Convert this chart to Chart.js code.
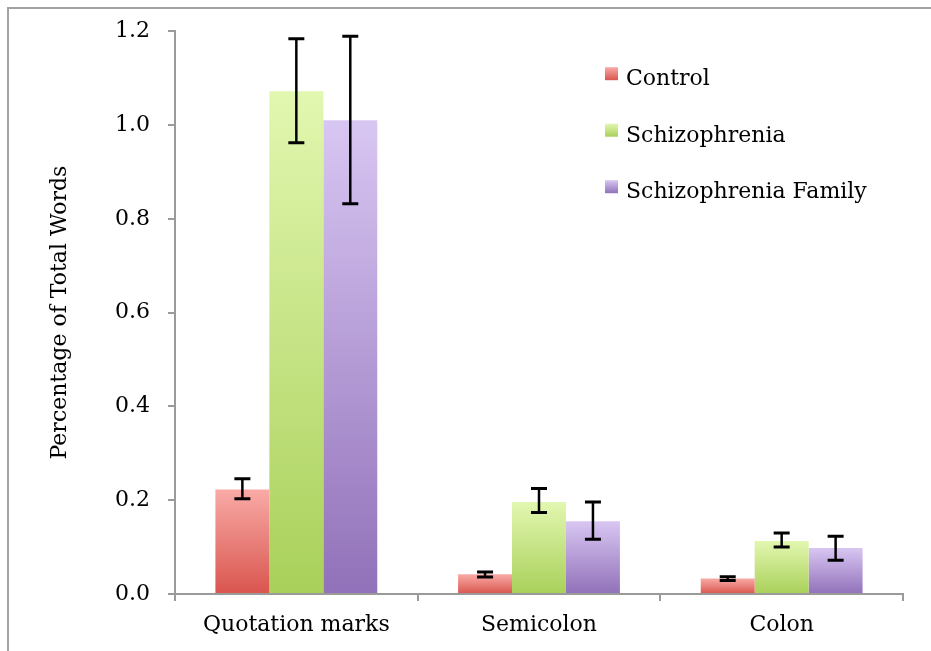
<!DOCTYPE html>
<html>
<head>
<meta charset="utf-8">
<script src="https://cdn.jsdelivr.net/npm/chart.js@4.4.1/dist/chart.umd.min.js"></script>
<style>
  body { margin: 0; background: #fff; }
  #wrap { position: relative; width: 931px; height: 651px; overflow: hidden; }
  #frame { position: absolute; left: 7px; top: 7px; width: 1000px; height: 1000px;
           border-left: 2px solid #a3a3a3; border-top: 2px solid #a3a3a3; }
</style>
</head>
<body>
<div id="wrap">
  <div id="frame"></div>
  <canvas id="chart"></canvas>
</div>
<script>
// データ
const categories = ['Quotation marks', 'Semicolon', 'Colon'];
const seriesNames = ['Control', 'Schizophrenia', 'Schizophrenia Family'];

const control = [0.223, 0.042, 0.033];
const controlLow = [0.203, 0.036, 0.029];
const controlHigh = [0.246, 0.047, 0.037];

const schizophrenia = [1.072, 0.196, 0.113];
const schizophreniaLow = [0.962, 0.174, 0.100];
const schizophreniaHigh = [1.184, 0.225, 0.130];

const family = [1.010, 0.155, 0.098];
const familyLow = [0.832, 0.117, 0.072];
const familyHigh = [1.189, 0.196, 0.123];

const yTicks = [0, 0.2, 0.4, 0.6, 0.8, 1.0, 1.2];

// 上が明るく下が濃いグラデーション
const shades = [
    ['#f9aaa6', '#d9554e'],
    ['#e2f7b0', '#a9d05a'],
    ['#d8c6f2', '#9171b9']
];

function barGradient(i) {
    return function(context) {
        const chart = context.chart;
        if (!chart.chartArea || context.raw === undefined) return shades[i][1];
        const y = chart.scales.y;
        const top = y.getPixelForValue(context.raw);
        const bottom = y.getPixelForValue(0);
        const g = chart.ctx.createLinearGradient(0, top, 0, bottom);
        g.addColorStop(0, shades[i][0]);
        g.addColorStop(1, shades[i][1]);
        return g;
    };
}

const errors = [
    [controlLow, controlHigh],
    [schizophreniaLow, schizophreniaHigh],
    [familyLow, familyHigh]
];

const errorBarPlugin = {
    id: 'errorBars',
    afterDatasetsDraw(chart) {
        const ctx = chart.ctx;
        const y = chart.scales.y;
        ctx.save();
        ctx.strokeStyle = '#000';
        chart.data.datasets.forEach((ds, i) => {
            const meta = chart.getDatasetMeta(i);
            meta.data.forEach((bar, j) => {
                const lo = y.getPixelForValue(errors[i][0][j]);
                const hi = y.getPixelForValue(errors[i][1][j]);
                ctx.lineWidth = 2.5;
                ctx.beginPath();
                ctx.moveTo(bar.x, lo);
                ctx.lineTo(bar.x, hi);
                ctx.stroke();
                ctx.lineWidth = 3;
                ctx.beginPath();
                ctx.moveTo(bar.x - 8, lo);
                ctx.lineTo(bar.x + 8, lo);
                ctx.moveTo(bar.x - 8, hi);
                ctx.lineTo(bar.x + 8, hi);
                ctx.stroke();
            });
        });
        ctx.restore();
    }
};

// 凡例はプロット内の右上に描く
const legendPlugin = {
    id: 'insideLegend',
    afterDraw(chart) {
        const ctx = chart.ctx;
        const x0 = chart.chartArea.left + 430;
        const base0 = chart.chartArea.top + 54;
        ctx.save();
        ctx.font = '22px "DejaVu Serif"';
        ctx.textBaseline = 'alphabetic';
        ctx.fillStyle = '#000';
        chart.data.datasets.forEach((ds, i) => {
            const base = base0 + i * 56.5;
            const g = ctx.createLinearGradient(0, base - 18, 0, base - 5);
            g.addColorStop(0, shades[i][0]);
            g.addColorStop(1, shades[i][1]);
            ctx.fillStyle = g;
            ctx.fillRect(x0, base - 18, 13, 13);
            ctx.fillStyle = '#000';
            ctx.fillText(ds.label, x0 + 21, base);
        });
        ctx.restore();
    }
};

Chart.defaults.font.family = '"DejaVu Serif"';
Chart.defaults.color = '#000';

const ctx = document.getElementById('chart').getContext('2d');
new Chart(ctx, {
    type: 'bar',
    data: {
        labels: categories,
        datasets: [
            { label: seriesNames[0], data: control, backgroundColor: barGradient(0) },
            { label: seriesNames[1], data: schizophrenia, backgroundColor: barGradient(1) },
            { label: seriesNames[2], data: family, backgroundColor: barGradient(2) }
        ]
    },
    plugins: [errorBarPlugin, legendPlugin],
    options: {
        responsive: true,
        maintainAspectRatio: false,
        animation: false,
        layout: { padding: { top: 30, right: 28, left: 0, bottom: 0 } },
        datasets: { bar: { categoryPercentage: 0.667, barPercentage: 1.0 } },
        plugins: {
            legend: { display: false },
            tooltip: { enabled: false }
        },
        scales: {
            x: {
                afterFit: function(scale) { scale.height = 57; },
                grid: { offset: true, drawOnChartArea: false, tickLength: 7, color: '#9a9a9a', lineWidth: 2 },
                border: { display: true, color: '#9a9a9a', width: 2 },
                ticks: { font: { size: 22 }, padding: 11, color: '#000', maxRotation: 0 }
            },
            y: {
                min: 0,
                max: 1.2,
                afterFit: function(scale) { scale.width = 175; },
                afterBuildTicks: function(scale) { scale.ticks = yTicks.map(v => ({ value: v })); },
                grid: { drawOnChartArea: false, tickLength: 7, color: '#9a9a9a', lineWidth: 2 },
                border: { display: true, color: '#9a9a9a', width: 2 },
                ticks: {
                    font: { size: 22 },
                    padding: 18,
                    color: '#000',
                    callback: v => Number(v).toFixed(1)
                },
                title: {
                    display: true,
                    text: 'Percentage of Total Words',
                    font: { size: 22 },
                    color: '#000',
                    padding: { top: 47, bottom: 0 }
                }
            }
        }
    }
});
</script>
</body>
</html>
